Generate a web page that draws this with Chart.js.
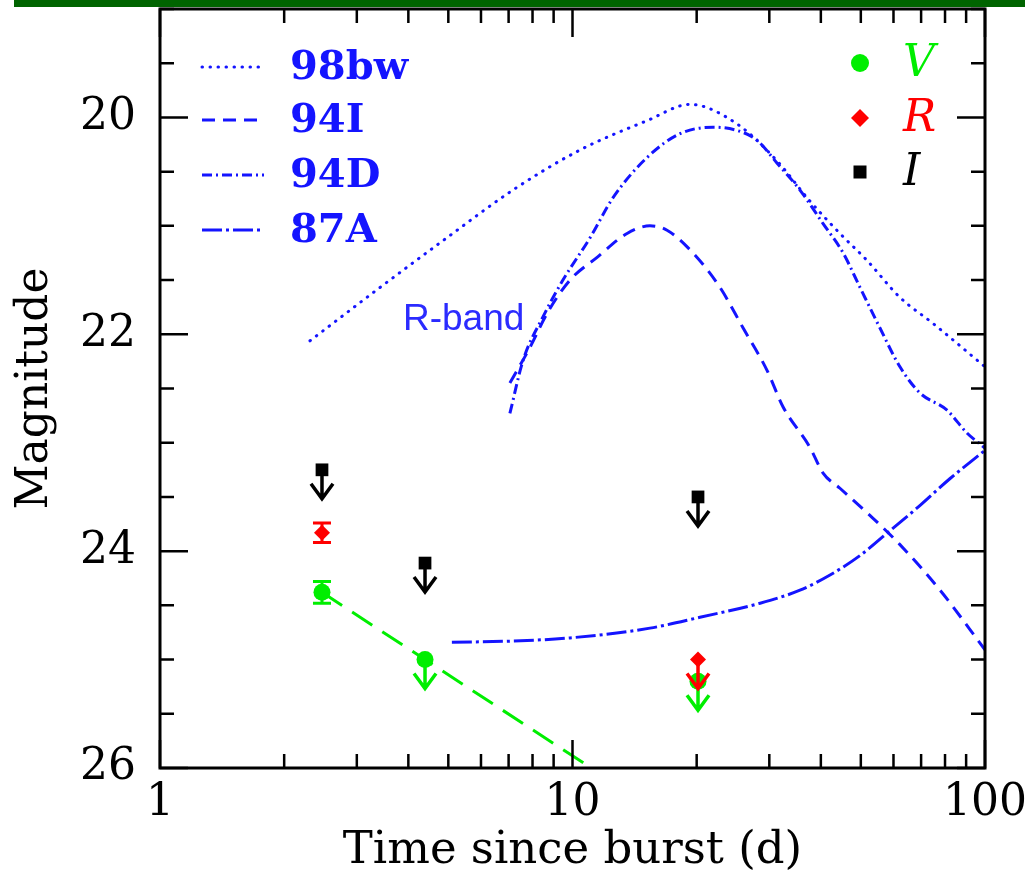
<!DOCTYPE html>
<html lang="en">
<head>
<meta charset="UTF-8">
<title>Afterglow limits vs SN light curves</title>
<script src="https://cdn.jsdelivr.net/npm/chart.js"></script>
<style>
  html, body { margin: 0; padding: 0; background: #fff; }
  #wrap { position: relative; width: 1025px; height: 892px; }
  #topbar { position: absolute; left: 14px; right: 0; top: 0; height: 7px; background: #006400; }
</style>
</head>
<body>
<div id="wrap">
  <canvas id="lcChart"></canvas>
  <div id="topbar"></div>
</div>

<script>
// R-band template light curves, shifted to the burst (days, mag)
const sn98bwDays = [2.31, 3.41, 4.96, 7.17, 10.43, 15.16, 19.27, 25.05, 31.3, 37.6, 44.5, 51.8, 62.2, 74.8, 100];
const sn98bwMag  = [22.06, 21.57, 21.11, 20.67, 20.30, 20.03, 19.88, 20.06, 20.40, 20.77, 21.07, 21.32, 21.66, 21.90, 22.30];

const sn94IDays = [7.05, 7.89, 8.67, 9.86, 11.47, 13.56, 15.41, 16.95, 19.59, 22.8, 25.9, 29.6, 32.4, 37.6, 40.5, 44.5, 52.6, 62.2, 77.8, 100];
const sn94IMag  = [22.45, 22.12, 21.81, 21.50, 21.29, 21.07, 21.00, 21.04, 21.25, 21.57, 21.94, 22.33, 22.67, 23.04, 23.28, 23.42, 23.67, 23.94, 24.36, 24.91];

const sn94DDays = [7.05, 7.59, 8.48, 9.48, 11.03, 12.54, 15.16, 18.22, 21.91, 25.05, 28.0, 31.3, 35.6, 40.5, 45.3, 49.8, 55.6, 62.2, 69.5, 80.9, 90.4, 100];
const sn94DMag  = [22.73, 22.24, 21.84, 21.50, 21.11, 20.74, 20.37, 20.15, 20.09, 20.12, 20.21, 20.42, 20.67, 20.98, 21.25, 21.57, 21.94, 22.30, 22.54, 22.70, 22.91, 23.05];

const sn87ADays = [5.10, 7.05, 9.86, 15.41, 20.37, 28.5, 35.6, 42.1, 49.8, 58.9, 69.5, 82.3, 100];
const sn87AMag  = [24.84, 24.83, 24.80, 24.71, 24.61, 24.48, 24.36, 24.22, 24.04, 23.81, 23.58, 23.33, 23.07];

// optical follow-up (upper = only an upper limit)
const vDays  = [2.47, 4.39, 20.15];
const vMag   = [24.38, 25.0, 25.2];
const vErr   = [0.10, 0, 0];
const vUpper = [false, true, true];

const rDays  = [2.47, 20.15];
const rMag   = [23.83, 25.0];
const rErr   = [0.09, 0];
const rUpper = [false, true];

const iDays  = [2.47, 4.39, 20.15];
const iMag   = [23.25, 24.11, 23.50];
const iUpper = [true, true, true];

// power-law decay through the V points
const fitDays = [2.47, 11.1];
const fitMag  = [24.38, 26.0];

const xTickValues = [1, 10, 100];
const yTickValues = [20, 22, 24, 26];
const curveNames = ['98bw', '94I', '94D', '87A'];
const bandNames = ['V', 'R', 'I'];

const BLUE = '#1414ff';
const GREEN = '#00ee00';
const RED = '#ff0000';
const SERIF = "'DejaVu Serif', serif";

const pts = (xs, ys) => xs.map((x, i) => ({ x: x, y: ys[i] }));

function curve(label, xs, ys, dash, cap) {
  return {
    label: label,
    data: pts(xs, ys),
    borderColor: BLUE,
    borderWidth: 3,
    borderDash: dash,
    borderCapStyle: cap || 'butt',
    pointRadius: 0,
    cubicInterpolationMode: 'monotone',
    fill: false
  };
}

function markers(label, xs, ys, style, color, r) {
  return {
    label: label,
    data: pts(xs, ys),
    showLine: false,
    pointStyle: style,
    pointRadius: r,
    pointBackgroundColor: color,
    pointBorderWidth: 0
  };
}

const lineDashes = [[0.5, 7.5], [13, 8], [10, 4, 2, 4], [20, 4, 3, 4]];
const lineCaps = ['round', 'butt', 'butt', 'butt'];

// error bars, limit arrows, frame, ticks and the hand-placed legends
const decorations = {
  id: 'decorations',
  afterDatasetsDraw(chart) {
    const { ctx, scales: { x, y } } = chart;
    ctx.save();
    ctx.lineCap = 'butt';

    function errBar(d, m, e, color) {
      if (!e) return;
      const px = x.getPixelForValue(d);
      const y1 = y.getPixelForValue(m - e), y2 = y.getPixelForValue(m + e);
      ctx.strokeStyle = color;
      ctx.lineWidth = 3;
      ctx.beginPath();
      ctx.moveTo(px, y1); ctx.lineTo(px, y2);
      ctx.moveTo(px - 9, y1); ctx.lineTo(px + 9, y1);
      ctx.moveTo(px - 9, y2); ctx.lineTo(px + 9, y2);
      ctx.stroke();
    }
    function arrow(d, m, color) {
      const px = x.getPixelForValue(d);
      const py = y.getPixelForValue(m);
      const tip = py + 29;
      ctx.strokeStyle = color;
      ctx.lineWidth = 3.5;
      ctx.beginPath();
      ctx.moveTo(px, py); ctx.lineTo(px, tip);
      ctx.moveTo(px - 11, tip - 15); ctx.lineTo(px, tip); ctx.lineTo(px + 11, tip - 15);
      ctx.stroke();
    }

    vDays.forEach((d, i) => { errBar(d, vMag[i], vErr[i], GREEN); if (vUpper[i]) arrow(d, vMag[i], GREEN); });
    rDays.forEach((d, i) => { errBar(d, rMag[i], rErr[i], RED); if (rUpper[i]) arrow(d, rMag[i], RED); });
    iDays.forEach((d, i) => { if (iUpper[i]) arrow(d, iMag[i], '#000'); });
    ctx.restore();
  },
  afterDraw(chart) {
    const { ctx, chartArea: a, scales: { x, y } } = chart;
    ctx.save();

    // frame with inward ticks on all sides
    ctx.strokeStyle = '#000';
    ctx.lineWidth = 3;
    ctx.strokeRect(a.left, a.top, a.right - a.left, a.bottom - a.top);
    ctx.lineWidth = 2.5;
    ctx.beginPath();
    for (let dec = 1; dec <= 100; dec *= 10) {
      for (let k = 1; k < 10; k++) {
        const v = dec * k;
        if (v > 100) break;
        const px = x.getPixelForValue(v);
        const len = k === 1 ? 28 : 14;
        ctx.moveTo(px, a.bottom); ctx.lineTo(px, a.bottom - len);
        ctx.moveTo(px, a.top); ctx.lineTo(px, a.top + len);
      }
    }
    for (let m = y.min; m <= y.max + 1e-6; m += 0.5) {
      const py = y.getPixelForValue(m);
      const len = Math.abs(m % 2) < 1e-6 ? 28 : 14;
      ctx.moveTo(a.left, py); ctx.lineTo(a.left + len, py);
      ctx.moveTo(a.right, py); ctx.lineTo(a.right - len, py);
    }
    ctx.stroke();

    // line-style key, top left
    ctx.textBaseline = 'middle';
    ctx.textAlign = 'left';
    ctx.font = 'bold 40px ' + SERIF;
    const keyY = [67, 120, 175, 230];
    curveNames.forEach((name, i) => {
      ctx.strokeStyle = BLUE;
      ctx.lineWidth = 3;
      ctx.lineCap = lineCaps[i];
      ctx.setLineDash(lineDashes[i]);
      ctx.beginPath();
      ctx.moveTo(202, keyY[i]); ctx.lineTo(264, keyY[i]);
      ctx.stroke();
      ctx.setLineDash([]);
      ctx.fillStyle = BLUE;
      ctx.fillText(name, 290, keyY[i] + 2);
    });

    // band key, top right
    const bandY = [63, 118, 172];
    const bandColors = [GREEN, RED, '#000'];
    const mx = 860;
    ctx.fillStyle = GREEN;
    ctx.beginPath(); ctx.arc(mx, bandY[0], 9, 0, Math.PI * 2); ctx.fill();
    ctx.fillStyle = RED;
    ctx.beginPath();
    ctx.moveTo(mx, bandY[1] - 9); ctx.lineTo(mx + 9, bandY[1]);
    ctx.lineTo(mx, bandY[1] + 9); ctx.lineTo(mx - 9, bandY[1]);
    ctx.closePath(); ctx.fill();
    ctx.fillStyle = '#000';
    ctx.fillRect(mx - 6.5, bandY[2] - 6.5, 13, 13);
    ctx.font = 'italic 44px ' + SERIF;
    bandNames.forEach((b, i) => {
      ctx.fillStyle = bandColors[i];
      ctx.fillText(b, 903, bandY[i] + 2);
    });

    ctx.font = "37px 'Liberation Sans', Arial, sans-serif";
    ctx.fillStyle = '#2b2bff';
    ctx.fillText('R-band', 403, 320);
    ctx.restore();
  }
};

Chart.defaults.font.family = SERIF;

new Chart(document.getElementById('lcChart'), {
  type: 'line',
  data: {
    datasets: [
      markers('I', iDays, iMag, 'rect', '#000', 9),
      markers('R', rDays, rMag, 'rectRot', RED, 8),
      markers('V', vDays, vMag, 'circle', GREEN, 8.5),
      {
        label: 'V decay',
        data: pts(fitDays, fitMag),
        borderColor: GREEN,
        borderWidth: 3,
        borderDash: [24, 12],
        pointRadius: 0,
        fill: false
      },
      curve('98bw', sn98bwDays, sn98bwMag, lineDashes[0], lineCaps[0]),
      curve('94I', sn94IDays, sn94IMag, lineDashes[1], lineCaps[1]),
      curve('94D', sn94DDays, sn94DMag, lineDashes[2], lineCaps[2]),
      curve('87A', sn87ADays, sn87AMag, lineDashes[3], lineCaps[3])
    ]
  },
  options: {
    responsive: true,
    maintainAspectRatio: false,
    animation: false,
    layout: { padding: { top: 9, right: 40, bottom: 14, left: 0 } },
    plugins: {
      legend: { display: false },
      tooltip: { enabled: false }
    },
    scales: {
      x: {
        type: 'logarithmic',
        min: 1,
        max: 100,
        grid: { display: false, drawTicks: false },
        border: { display: false },
        afterBuildTicks: s => { s.ticks = xTickValues.map(v => ({ value: v })); },
        afterFit: s => { s.height = 110; s.paddingLeft = 0; s.paddingRight = 0; },
        ticks: {
          color: '#000',
          font: { size: 44 },
          padding: 9,
          maxRotation: 0,
          autoSkip: false,
          callback: v => String(v)
        },
        title: {
          display: true,
          text: 'Time since burst (d)',
          color: '#000',
          font: { size: 45, lineHeight: 1.2 },
          padding: { top: 0, bottom: 0 }
        }
      },
      y: {
        type: 'linear',
        reverse: true,
        min: 19,
        max: 26,
        grid: { display: false, drawTicks: false },
        border: { display: false },
        afterBuildTicks: s => { s.ticks = yTickValues.map(v => ({ value: v })); },
        afterFit: s => { s.width = 160; s.paddingTop = 0; s.paddingBottom = 0; },
        ticks: {
          color: '#000',
          font: { size: 44 },
          padding: 24
        },
        title: {
          display: true,
          text: 'Magnitude',
          color: '#000',
          font: { size: 44, lineHeight: 1.2 },
          padding: { top: 9, bottom: 0 }
        }
      }
    }
  },
  plugins: [decorations]
});
</script>
</body>
</html>
